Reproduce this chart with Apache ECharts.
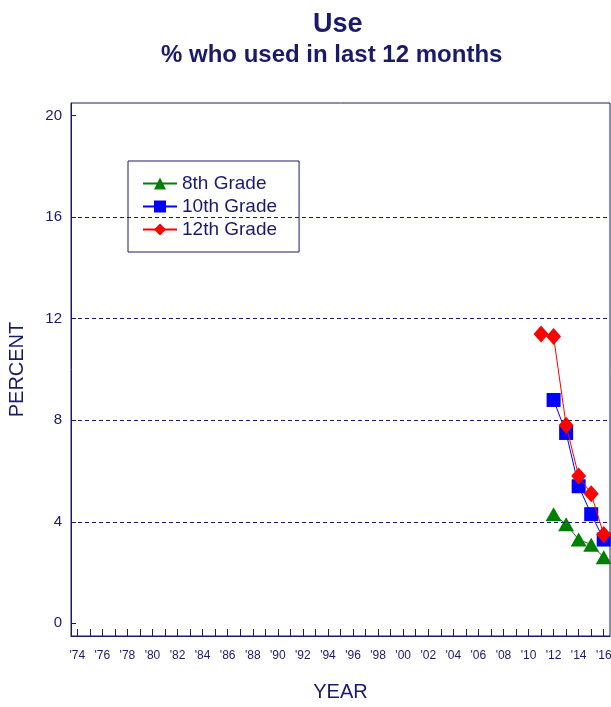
<!DOCTYPE html>
<html>
<head>
<meta charset="utf-8">
<script src="https://cdn.jsdelivr.net/npm/echarts@6/dist/echarts.min.js"></script>
<style>
  html, body { margin: 0; padding: 0; background: #fff; }
  #main { width: 611px; height: 707px; }
</style>
</head>
<body>
<div id="main"></div>
<script>
// survey years shown on the axis
var years = [];
for (var y = 1974; y <= 2016; y++) years.push(String(y));

var yTicks = [0, 4, 8, 12, 16, 20];
var gridLines = [4, 8, 12, 16];

var grade8Years = ['2012', '2013', '2014', '2015', '2016'];
var grade8 = [4.3, 3.9, 3.3, 3.1, 2.6];

var grade10Years = ['2012', '2013', '2014', '2015', '2016'];
var grade10 = [8.8, 7.5, 5.4, 4.3, 3.3];

var grade12Years = ['2011', '2012', '2013', '2014', '2015', '2016'];
var grade12 = [11.4, 11.3, 7.8, 5.8, 5.1, 3.5];

var navy = '#1a1a6a';
var font = 'Liberation Sans, Arial, sans-serif';

function pairs(xs, vs) {
    return xs.map(function (x, i) { return [x, vs[i]]; });
}

var myChart = echarts.init(document.getElementById('main'), null, { renderer: 'canvas' });

var option = {
    backgroundColor: '#fff',
    animation: false,
    textStyle: { fontFamily: font, color: navy },
    title: [
        { text: 'Use', left: 308, top: 6,
          textStyle: { fontSize: 27, fontWeight: 'bold', color: navy, fontFamily: font } },
        { text: '% who used in last 12 months', left: 156, top: 38,
          textStyle: { fontSize: 24, fontWeight: 'bold', color: navy, fontFamily: font } }
    ],
    legend: {
        orient: 'vertical',
        left: 128,
        top: 161,
        borderColor: navy,
        borderWidth: 1,
        padding: [13, 22, 13, 14],
        itemGap: 4,
        itemWidth: 34,
        itemHeight: 15,
        textStyle: { fontSize: 19, color: navy, fontFamily: font },
        data: ['8th Grade', '10th Grade', '12th Grade']
    },
    grid: {
        left: 71, right: 1, top: 103, bottom: 71,
        containLabel: false,
        outerBoundsMode: 'none',
        show: true, borderColor: navy, borderWidth: 1
    },
    xAxis: {
        type: 'category',
        data: years,
        boundaryGap: true,
        name: 'YEAR',
        nameLocation: 'middle',
        nameGap: 46,
        nameTextStyle: { fontSize: 20, color: navy },
        axisLine: { show: true, onZero: false, lineStyle: { color: navy, width: 1 } },
        axisTick: { show: true, inside: true, alignWithLabel: true, interval: 0, length: 7, lineStyle: { color: navy, width: 1 } },
        axisLabel: {
            interval: 1, margin: 14, fontSize: 12, color: navy,
            formatter: function (v) { return "'" + v.slice(2); }
        },
        splitLine: { show: false }
    },
    yAxis: {
        type: 'value',
        min: -0.5,
        max: 20.5,
        name: 'PERCENT',
        nameLocation: 'middle',
        nameGap: 44,
        nameTextStyle: { fontSize: 20, color: navy },
        axisLine: { show: true, onZero: false, lineStyle: { color: navy, width: 1 } },
        axisTick: { show: true, inside: true, length: 5, customValues: yTicks, lineStyle: { color: navy } },
        axisLabel: { customValues: yTicks, fontSize: 15, color: navy, margin: 9 },
        splitLine: { show: false }
    },
    series: [
        {
            name: '8th Grade',
            type: 'line',
            data: pairs(grade8Years, grade8),
            symbol: 'triangle',
            symbolSize: [16, 14],
            showAllSymbol: true,
            itemStyle: { color: '#008000' },
            lineStyle: { color: '#008000', width: 1 },
            z: 3,
            markLine: {
                silent: true,
                symbol: 'none',
                label: { show: false },
                lineStyle: { color: navy, type: [4, 3], width: 1 },
                data: gridLines.map(function (v) { return { yAxis: v }; })
            }
        },
        {
            name: '10th Grade',
            type: 'line',
            data: pairs(grade10Years, grade10),
            symbol: 'rect',
            symbolSize: 14,
            showAllSymbol: true,
            itemStyle: { color: '#0000ff' },
            lineStyle: { color: '#0000ff', width: 1 },
            z: 4
        },
        {
            name: '12th Grade',
            type: 'line',
            data: pairs(grade12Years, grade12),
            symbol: 'diamond',
            symbolSize: [15, 17],
            showAllSymbol: true,
            itemStyle: { color: '#ff0000' },
            lineStyle: { color: '#ff0000', width: 1 },
            z: 5
        }
    ]
};
myChart.setOption(option);
window.addEventListener('resize', function () { myChart.resize(); });
</script>
</body>
</html>
